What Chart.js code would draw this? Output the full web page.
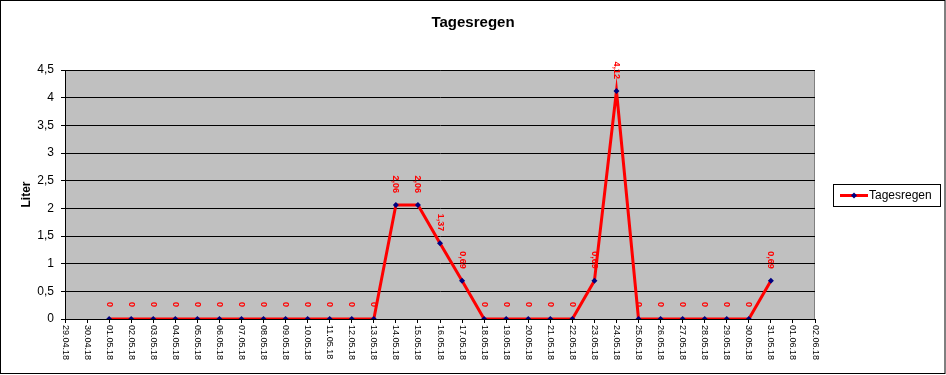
<!DOCTYPE html>
<html>
<head>
<meta charset="utf-8">
<script src="https://cdn.jsdelivr.net/npm/chart.js@4/dist/chart.umd.min.js"></script>
<style>
html,body{margin:0;padding:0;background:#fff;}
#wrap{position:relative;width:946px;height:375px;}
</style>
</head>
<body>
<div id="wrap"><canvas id="c" width="946" height="375"></canvas></div>
<script>
const chartTitle = "Tagesregen";
const yTitle = "Liter";
const categories = ["29.04.18","30.04.18","01.05.18","02.05.18","03.05.18","04.05.18","05.05.18","06.05.18","07.05.18","08.05.18","09.05.18","10.05.18","11.05.18","12.05.18","13.05.18","14.05.18","15.05.18","16.05.18","17.05.18","18.05.18","19.05.18","20.05.18","21.05.18","22.05.18","23.05.18","24.05.18","25.05.18","26.05.18","27.05.18","28.05.18","29.05.18","30.05.18","31.05.18","01.06.18","02.06.18"];
const rainValues = [null,null,0,0,0,0,0,0,0,0,0,0,0,0,0,2.06,2.06,1.37,0.69,0,0,0,0,0,0.69,4.12,0,0,0,0,0,0,0.69,null,null];
const yMin = 0, yMax = 4.5, yStep = 0.5;

const FONT = "'Liberation Sans', Arial, sans-serif";
const fmt = v => String(v).replace('.', ',');

const customDraw = {
  id: 'customDraw',
  beforeDraw(chart) {
    const {ctx, chartArea: a} = chart;
    ctx.save();
    ctx.fillStyle = '#fff';
    ctx.fillRect(0,0,chart.width,chart.height);
    ctx.fillStyle = '#C0C0C0';
    ctx.fillRect(a.left, a.top, a.right-a.left, a.bottom-a.top);
    ctx.strokeStyle = '#808080';
    ctx.lineWidth = 1;
    ctx.strokeRect(a.left+0.5, a.top+0.5, a.right-a.left-1, a.bottom-a.top);
    ctx.restore();
  },
  afterDraw(chart) {
    const {ctx, chartArea: a} = chart;
    const xs = chart.scales.x, ys = chart.scales.y;
    ctx.save();
    // title
    ctx.fillStyle = '#000';
    ctx.font = "bold 15px " + FONT;
    ctx.textAlign = 'center';
    ctx.textBaseline = 'middle';
    ctx.fillText(chartTitle, 473, 23);
    // y title
    ctx.save();
    ctx.translate(27, (a.top+a.bottom)/2);
    ctx.rotate(-Math.PI/2);
    ctx.font = "bold 12px " + FONT;
    ctx.fillText(yTitle, 0, 0);
    ctx.restore();
    // x labels
    ctx.font = "9px " + FONT;
    categories.forEach((lab, i) => {
      const x = xs.getPixelForValue(i);
      ctx.save();
      ctx.translate(x, a.bottom + 6);
      ctx.rotate(Math.PI/2);
      ctx.textAlign = 'left';
      ctx.textBaseline = 'middle';
      ctx.fillText(lab, 0, 0);
      ctx.restore();
    });
    // data labels
    ctx.fillStyle = '#FF0000';
    ctx.font = "bold 9px " + FONT;
    rainValues.forEach((v, i) => {
      if (v === null) return;
      const x = xs.getPixelForValue(i);
      const y = ys.getPixelForValue(v);
      ctx.save();
      ctx.translate(x, y - 12);
      ctx.rotate(Math.PI/2);
      ctx.textAlign = 'right';
      ctx.textBaseline = 'middle';
      ctx.fillText(fmt(v), 0, 0);
      ctx.restore();
    });
    // legend
    const lx = 833, ly = 184, lw = 107, lh = 22;
    ctx.fillStyle = '#fff';
    ctx.fillRect(lx, ly, lw, lh);
    ctx.strokeStyle = '#000';
    ctx.lineWidth = 1;
    ctx.strokeRect(lx+0.5, ly+0.5, lw, lh);
    ctx.strokeStyle = '#FF0000';
    ctx.lineWidth = 3;
    ctx.beginPath();
    ctx.moveTo(840, ly + lh/2 + 0.5);
    ctx.lineTo(868, ly + lh/2 + 0.5);
    ctx.stroke();
    ctx.fillStyle = '#000080';
    ctx.beginPath();
    const cx = 854, cy = ly + lh/2 + 0.5, r = 3;
    ctx.moveTo(cx, cy-r); ctx.lineTo(cx+r, cy); ctx.lineTo(cx, cy+r); ctx.lineTo(cx-r, cy); ctx.closePath();
    ctx.fill();
    ctx.fillStyle = '#000';
    ctx.font = "12px " + FONT;
    ctx.textAlign = 'left';
    ctx.textBaseline = 'middle';
    ctx.fillText(chart.data.datasets[0].label, 869, cy);
    // outer border
    ctx.strokeStyle = '#000';
    ctx.lineWidth = 1;
    ctx.strokeRect(0.5, 0.5, chart.width-1.5, chart.height-2);
    ctx.restore();
  }
};

new Chart(document.getElementById('c'), {
  type: 'line',
  data: {
    labels: categories,
    datasets: [{
      label: 'Tagesregen',
      data: rainValues,
      borderColor: '#FF0000',
      borderWidth: 3,
      tension: 0,
      pointStyle: 'rectRot',
      pointRadius: 3,
      pointBackgroundColor: '#000080',
      pointBorderColor: '#000080',
      pointBorderWidth: 0,
      spanGaps: false
    }]
  },
  options: {
    responsive: false,
    animation: false,
    devicePixelRatio: 1,
    layout: { padding: { left: 0, top: 70, right: 131, bottom: 0 } },
    plugins: { legend: { display: false }, title: { display: false }, tooltip: { enabled: false } },
    scales: {
      x: {
        type: 'category',
        offset: false,
        grid: { display: true, drawOnChartArea: false, drawTicks: true, tickLength: 4, color: '#000' },
        border: { display: true, color: '#000', width: 1 },
        ticks: { display: false, autoSkip: false },
        afterFit(s) { s.height = 56; }
      },
      y: {
        min: yMin, max: yMax,
        grid: { display: true, color: '#000', tickLength: 4, drawTicks: true },
        border: { display: true, color: '#000', width: 1 },
        ticks: {
          stepSize: yStep,
          color: '#000',
          padding: 7,
          font: { family: FONT, size: 12 },
          callback: v => fmt(v)
        },
        afterFit(s) { s.width = 65; }
      }
    }
  },
  plugins: [customDraw]
});
</script>
</body>
</html>
